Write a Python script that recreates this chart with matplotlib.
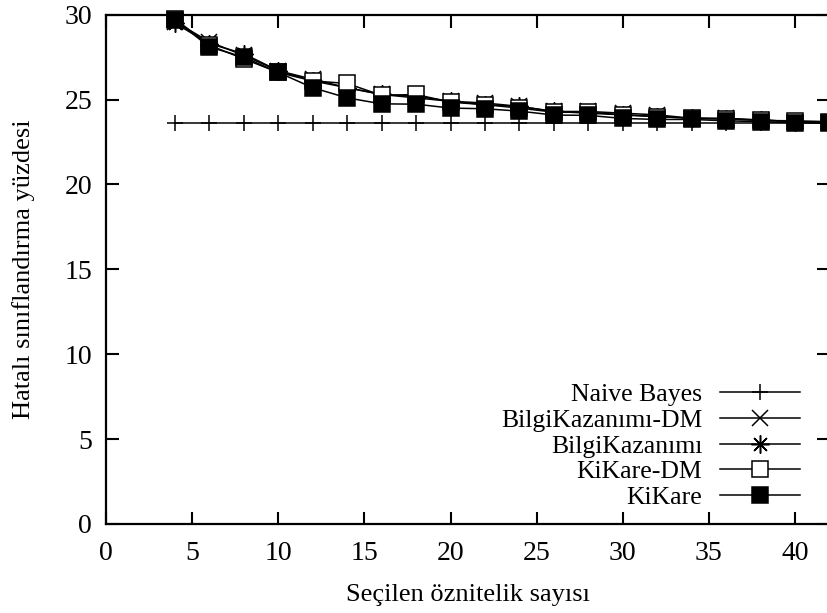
import matplotlib
matplotlib.use("Agg")
import matplotlib.pyplot as plt

plt.rcParams['font.family'] = ['Liberation Serif', 'DejaVu Serif']

# number of selected features
n_features = [4, 6, 8, 10, 12, 14, 16, 18, 20, 22, 24, 26, 28, 30, 32, 34, 36, 38, 40, 42]

naive_bayes = [23.6] * len(n_features)
bilgi_dm = [29.6, 28.4, 27.6, 26.7, 26.2, 25.7, 25.3, 25.2, 24.9, 24.8, 24.6,
            24.3, 24.3, 24.2, 24.1, 23.9, 23.9, 23.8, 23.7, 23.65]
bilgi = [29.5, 28.3, 27.7, 26.7, 26.1, 25.7, 25.3, 25.1, 24.9, 24.7, 24.6,
         24.3, 24.2, 24.1, 24.0, 23.9, 23.85, 23.8, 23.7, 23.65]
kikare_dm = [29.75, 28.2, 27.4, 26.6, 26.1, 25.95, 25.25, 25.3, 24.85, 24.7, 24.5,
             24.26, 24.26, 24.1, 24.0, 23.9, 23.87, 23.77, 23.75, 23.7]
kikare = [29.7, 28.1, 27.5, 26.6, 25.7, 25.1, 24.75, 24.73, 24.5, 24.46, 24.32,
          24.09, 24.07, 23.89, 23.83, 23.83, 23.75, 23.7, 23.63, 23.6]

fig = plt.figure(figsize=(8.27, 6.13), dpi=100)
ax = fig.add_axes([0.1282, 0.1452, 1.003 - 0.1282, 0.976 - 0.1452])

lw = 1.1
ax.plot(n_features, naive_bayes, color='black', lw=lw, marker='+', ms=12, mew=1.1,
        label='Naive Bayes', clip_on=False)
ax.plot(n_features, bilgi_dm, color='black', lw=lw, marker='x', ms=11, mew=1.1,
        label='BilgiKazanımı-DM', clip_on=False)
ax.plot(n_features, bilgi, color='black', lw=lw, marker=(8, 2, 0), ms=13, mew=1.1,
        label='BilgiKazanımı', clip_on=False)
ax.plot(n_features, kikare_dm, color='black', lw=lw, marker='s', ms=12, mew=1.1,
        mfc='white', label='KiKare-DM', clip_on=False)
ax.plot(n_features, kikare, color='black', lw=lw, marker='s', ms=12, mew=1.1,
        mfc='black', label='KiKare', clip_on=False)

ax.set_xlim(0, 42)
ax.set_ylim(0, 30)
ax.set_xticks(range(0, 45, 5))
ax.set_yticks(range(0, 31, 5))

for s in ax.spines.values():
    s.set_linewidth(1.6)
ax.tick_params(direction='in', length=9, width=1.5, top=True, right=True,
               labelsize=20)
ax.tick_params(axis='x', pad=12)
ax.tick_params(axis='y', pad=10)

ax.set_xlabel('Seçilen öznitelik sayısı', fontsize=19, labelpad=13)
ax.set_ylabel('Hatalı sınıflandırma yüzdesi', fontsize=19, labelpad=21)

leg = ax.legend(loc='lower right', bbox_to_anchor=(0.959, 0.03), frameon=False,
                markerfirst=False, fontsize=18.5, handlelength=3.1,
                handletextpad=0.7, labelspacing=0.1, borderpad=0,
                borderaxespad=0)

fig.savefig('out.png', dpi=100)
